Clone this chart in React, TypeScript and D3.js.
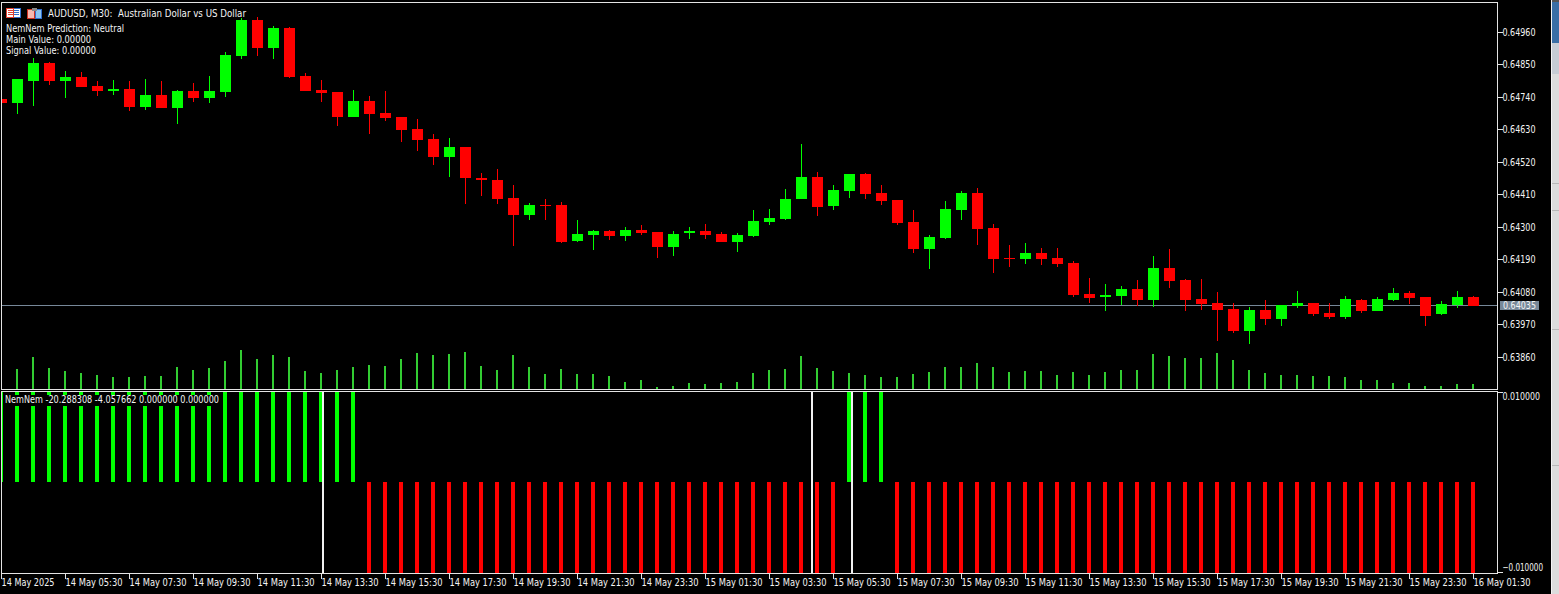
import React, { useEffect, useRef } from 'react';
import * as d3 from 'd3';

const opens = [
  0.64735, 0.64721, 0.64796, 0.64857, 0.64796, 0.64809, 0.64779, 0.64762, 0.64768, 0.64707,
  0.64748, 0.64704, 0.64762, 0.64738, 0.64758, 0.64880, 0.65002, 0.64907, 0.64975, 0.64813,
  0.64765, 0.64758, 0.64674, 0.64728, 0.64687, 0.64674, 0.64633, 0.64599, 0.64538, 0.64572,
  0.64467, 0.64460, 0.64399, 0.64341, 0.64375, 0.64375, 0.64253, 0.64274, 0.64287, 0.64270,
  0.64291, 0.64284, 0.64233, 0.64280, 0.64287, 0.64277, 0.64250, 0.64270, 0.64318, 0.64328,
  0.64396, 0.64470, 0.64372, 0.64423, 0.64480, 0.64416, 0.64392, 0.64318, 0.64226, 0.64263,
  0.64358, 0.64416, 0.64297, 0.64196, 0.64192, 0.64213, 0.64196, 0.64179, 0.64074, 0.64063,
  0.64067, 0.64090, 0.64053, 0.64162, 0.64121, 0.64057, 0.64043, 0.64023, 0.63948, 0.64019,
  0.63989, 0.64033, 0.64043, 0.64009, 0.63996, 0.64053, 0.64016, 0.64053, 0.64077, 0.64063,
  0.64006, 0.64036, 0.64063,
];
const highs = [
  0.64735, 0.64802, 0.64874, 0.64860, 0.64830, 0.64826, 0.64796, 0.64799, 0.64796, 0.64802,
  0.64796, 0.64765, 0.64789, 0.64813, 0.64894, 0.65009, 0.65013, 0.64982, 0.64979, 0.64823,
  0.64799, 0.64758, 0.64765, 0.64745, 0.64762, 0.64674, 0.64667, 0.64616, 0.64602, 0.64572,
  0.64484, 0.64497, 0.64443, 0.64382, 0.64396, 0.64385, 0.64324, 0.64291, 0.64291, 0.64301,
  0.64307, 0.64284, 0.64287, 0.64301, 0.64311, 0.64284, 0.64280, 0.64358, 0.64362, 0.64429,
  0.64581, 0.64487, 0.64443, 0.64480, 0.64484, 0.64443, 0.64392, 0.64358, 0.64274, 0.64389,
  0.64423, 0.64433, 0.64311, 0.64240, 0.64246, 0.64229, 0.64229, 0.64185, 0.64128, 0.64107,
  0.64101, 0.64121, 0.64202, 0.64226, 0.64124, 0.64124, 0.64080, 0.64043, 0.64029, 0.64053,
  0.64036, 0.64084, 0.64043, 0.64043, 0.64067, 0.64057, 0.64063, 0.64094, 0.64084, 0.64063,
  0.64050, 0.64084, 0.64067,
];
const lows = [
  0.64721, 0.64684, 0.64711, 0.64782, 0.64738, 0.64775, 0.64745, 0.64748, 0.64694, 0.64697,
  0.64704, 0.64650, 0.64724, 0.64721, 0.64741, 0.64870, 0.64880, 0.64870, 0.64806, 0.64762,
  0.64724, 0.64643, 0.64674, 0.64616, 0.64660, 0.64589, 0.64558, 0.64511, 0.64470, 0.64379,
  0.64406, 0.64379, 0.64236, 0.64324, 0.64324, 0.64246, 0.64250, 0.64223, 0.64257, 0.64253,
  0.64274, 0.64196, 0.64202, 0.64260, 0.64260, 0.64250, 0.64216, 0.64267, 0.64307, 0.64324,
  0.64396, 0.64338, 0.64358, 0.64399, 0.64396, 0.64375, 0.64307, 0.64213, 0.64158, 0.64260,
  0.64324, 0.64240, 0.64145, 0.64165, 0.64175, 0.64172, 0.64165, 0.64063, 0.64043, 0.64016,
  0.64036, 0.64033, 0.64029, 0.64094, 0.64016, 0.64019, 0.63914, 0.63941, 0.63904, 0.63968,
  0.63965, 0.64026, 0.63999, 0.63989, 0.63989, 0.64009, 0.64016, 0.64050, 0.64040, 0.63965,
  0.64002, 0.64026, 0.64033,
];
const closes = [
  0.64721, 0.64802, 0.64857, 0.64796, 0.64809, 0.64775, 0.64762, 0.64768, 0.64707, 0.64748,
  0.64704, 0.64762, 0.64738, 0.64762, 0.64884, 0.65002, 0.64907, 0.64975, 0.64809, 0.64762,
  0.64755, 0.64674, 0.64728, 0.64684, 0.64670, 0.64630, 0.64596, 0.64538, 0.64572, 0.64467,
  0.64460, 0.64396, 0.64341, 0.64375, 0.64372, 0.64250, 0.64277, 0.64287, 0.64270, 0.64291,
  0.64280, 0.64233, 0.64277, 0.64287, 0.64274, 0.64250, 0.64274, 0.64321, 0.64331, 0.64396,
  0.64470, 0.64368, 0.64426, 0.64480, 0.64413, 0.64389, 0.64314, 0.64226, 0.64267, 0.64362,
  0.64416, 0.64294, 0.64192, 0.64192, 0.64213, 0.64192, 0.64175, 0.64070, 0.64060, 0.64070,
  0.64090, 0.64053, 0.64162, 0.64118, 0.64053, 0.64040, 0.64019, 0.63948, 0.64019, 0.63989,
  0.64036, 0.64043, 0.64006, 0.63996, 0.64057, 0.64016, 0.64057, 0.64077, 0.64060, 0.63999,
  0.64040, 0.64063, 0.64033,
];
const volumes = [
  1000, 1000, 1600, 1050, 900, 800, 700, 600, 600, 650,
  650, 1100, 950, 1050, 1400, 1950, 1500, 1700, 1600, 900,
  800, 950, 1100, 1200, 1150, 1500, 1800, 1700, 1750, 1850,
  1150, 950, 1700, 1100, 750, 1000, 750, 750, 650, 350,
  450, 100, 150, 300, 250, 300, 350, 800, 950, 1000,
  1650, 1050, 900, 800, 700, 600, 600, 750, 850, 1100,
  1100, 1300, 1100, 850, 900, 900, 700, 850, 700, 850,
  950, 950, 1750, 1650, 1550, 1550, 1800, 1450, 950, 800,
  700, 700, 650, 650, 600, 450, 450, 300, 300, 150,
  150, 250, 250,
];
const signalValues = [
  0.01, 0.01, 0.01, 0.01, 0.01, 0.01, 0.01, 0.01, 0.01, 0.01,
  0.01, 0.01, 0.01, 0.01, 0.01, 0.01, 0.01, 0.01, 0.01, 0.01,
  0.01, 0.01, 0.01, -0.01, -0.01, -0.01, -0.01, -0.01, -0.01, -0.01,
  -0.01, -0.01, -0.01, -0.01, -0.01, -0.01, -0.01, -0.01, -0.01, -0.01,
  -0.01, -0.01, -0.01, -0.01, -0.01, -0.01, -0.01, -0.01, -0.01, -0.01,
  -0.01, -0.01, -0.01, 0.01, 0.01, 0.01, -0.01, -0.01, -0.01, -0.01,
  -0.01, -0.01, -0.01, -0.01, -0.01, -0.01, -0.01, -0.01, -0.01, -0.01,
  -0.01, -0.01, -0.01, -0.01, -0.01, -0.01, -0.01, -0.01, -0.01, -0.01,
  -0.01, -0.01, -0.01, -0.01, -0.01, -0.01, -0.01, -0.01, -0.01, -0.01,
  -0.01, -0.01, -0.01,
];
// the three white verticals in the lower pane sit between bars
const markerBars = [20.03, 50.59, 53.09];

const priceTicks = [0.6496, 0.6485, 0.6474, 0.6463, 0.6452, 0.6441, 0.643, 0.6419, 0.6408, 0.6397, 0.6386];
const signalTicks = [0.01, -0.01];
const timeTickBars = [0, 4, 8, 12, 16, 20, 24, 28, 32, 36, 40, 44, 48, 52, 56, 60, 64, 68, 72, 76, 80, 84, 88, 92];
const timeLabels = [
  '14 May 2025', '14 May 05:30', '14 May 07:30', '14 May 09:30', '14 May 11:30', '14 May 13:30',
  '14 May 15:30', '14 May 17:30', '14 May 19:30', '14 May 21:30', '14 May 23:30', '15 May 01:30',
  '15 May 03:30', '15 May 05:30', '15 May 07:30', '15 May 09:30', '15 May 11:30', '15 May 13:30',
  '15 May 15:30', '15 May 17:30', '15 May 19:30', '15 May 21:30', '15 May 23:30', '16 May 01:30',
];
const lastPrice = 0.64035;
const infoLines = ['NemNem Prediction: Neutral', 'Main Value: 0.00000', 'Signal Value: 0.00000'];
const titleText = 'AUDUSD, M30:\u00a0\u00a0Australian Dollar vs US Dollar';
const subTitle = 'NemNem -20.288308 -4.057662 0.000000 0.000000';

const FONT = '"DejaVu Sans Condensed", "Liberation Sans", sans-serif';
const FONT_SIZE = 10;
const TEXT = '#f4f4f4';
const FRAME = '#e4e4e4';

const App: React.FC = () => {
  const svgRef = useRef<SVGSVGElement>(null);

  useEffect(() => {
    if (!svgRef.current) return;
    const svg = d3.select(svgRef.current);
    svg.selectAll('*').remove();

    const width = 1559;
    const height = 594;
    const right = 1497.5;
    const mainTop = 2.5;
    const mainBottom = 389.5;
    const subTop = 391.5;
    const subBottom = 573.5;

    const x = d3.scaleLinear().domain([0, 92]).range([1.5, 1473.5]);
    const y = d3.scaleLinear().domain([0.6496, 0.6386]).range([32.5, 357]);
    const yVol = d3.scaleLinear().domain([0, 2000]).range([389, 349]);
    const ySub = d3.scaleLinear().domain([0.01, -0.01]).range([392.5, 572.5]);

    svg.append('rect').attr('width', width).attr('height', height).attr('fill', '#000');

    // window chrome on the far right
    svg.append('rect').attr('x', 1551).attr('width', 8).attr('height', height).attr('fill', '#dcdcdc');
    svg.append('rect').attr('x', 1551).attr('width', 1).attr('height', height).attr('fill', '#f4f4f4');
    svg.append('rect').attr('x', 1552).attr('y', 0).attr('width', 7).attr('height', 43).attr('fill', '#3a6ea5');
    svg.append('rect').attr('x', 1552).attr('y', 0).attr('width', 7).attr('height', 2).attr('fill', '#555');
    svg.append('rect').attr('x', 1552).attr('y', 43).attr('width', 7).attr('height', 31).attr('fill', '#c6ccd4');
    [183, 210, 329, 465].forEach(ly => {
      svg.append('rect').attr('x', 1552).attr('y', ly).attr('width', 7).attr('height', 1).attr('fill', '#b8b8b8');
    });

    const defs = svg.append('defs');
    defs.append('clipPath').attr('id', 'main-clip').append('rect')
      .attr('x', 2).attr('y', 3).attr('width', 1495).attr('height', 386);
    defs.append('clipPath').attr('id', 'sub-clip').append('rect')
      .attr('x', 2).attr('y', 392).attr('width', 1495).attr('height', 181);

    const main = svg.append('g').attr('clip-path', 'url(#main-clip)').attr('shape-rendering', 'crispEdges');
    const sub = svg.append('g').attr('clip-path', 'url(#sub-clip)').attr('shape-rendering', 'crispEdges');

    // Last price line stays behind the candles
    main.append('rect')
      .attr('x', 2).attr('y', Math.floor(y(lastPrice)))
      .attr('width', 1495).attr('height', 1)
      .attr('fill', '#778899');

    const bars = d3.range(opens.length);

    // Volumes
    main.selectAll('.vol').data(bars).enter().append('rect')
      .attr('class', 'vol')
      .attr('x', i => x(i) - 1.5)
      .attr('y', i => Math.round(yVol(volumes[i])))
      .attr('width', 2)
      .attr('height', i => 389 - Math.round(yVol(volumes[i])))
      .attr('fill', '#32cd32');

    const color = (i: number) => (closes[i] >= opens[i] ? '#00ff00' : '#ff0000');

    // Wicks
    main.selectAll('.wick').data(bars).enter().append('rect')
      .attr('class', 'wick')
      .attr('x', i => x(i) - 0.5)
      .attr('y', i => Math.round(y(highs[i])))
      .attr('width', 1)
      .attr('height', i => Math.round(y(lows[i])) - Math.round(y(highs[i])))
      .attr('fill', color);

    // Bodies
    main.selectAll('.body').data(bars).enter().append('rect')
      .attr('class', 'body')
      .attr('x', i => x(i) - 5.5)
      .attr('y', i => Math.round(y(Math.max(opens[i], closes[i]))))
      .attr('width', 11)
      .attr('height', i => Math.round(y(Math.min(opens[i], closes[i]))) - Math.round(y(Math.max(opens[i], closes[i]))))
      .attr('fill', color);

    // Signal histogram
    const zero = Math.floor(ySub(0));
    sub.selectAll('.sig').data(bars).enter().append('rect')
      .attr('class', 'sig')
      .attr('x', i => x(i) - 2.5)
      .attr('y', i => Math.min(zero, Math.floor(ySub(signalValues[i]))))
      .attr('width', 4)
      .attr('height', i => Math.abs(Math.floor(ySub(signalValues[i])) - zero) + (signalValues[i] < 0 ? 1 : 0))
      .attr('fill', i => (signalValues[i] > 0 ? '#00ff00' : '#ff0000'));

    sub.selectAll('.marker').data(markerBars).enter().append('rect')
      .attr('class', 'marker')
      .attr('x', d => Math.round(x(d)))
      .attr('y', 392)
      .attr('width', 2)
      .attr('height', 181)
      .attr('fill', '#f0f0f0');

    // Frames
    const frames = svg.append('g').attr('fill', 'none').attr('stroke', FRAME).attr('shape-rendering', 'crispEdges');
    frames.append('rect').attr('x', 1.5).attr('y', mainTop).attr('width', right - 1.5).attr('height', mainBottom - mainTop);
    frames.append('rect').attr('x', 1.5).attr('y', subTop).attr('width', right - 1.5).attr('height', subBottom - subTop);

    // Axes
    const styleAxis = (g: d3.Selection<SVGGElement, unknown, null, undefined>) => {
      g.select('.domain').remove();
      g.selectAll('line').attr('stroke', FRAME).attr('shape-rendering', 'crispEdges');
      g.selectAll('text')
        .attr('fill', TEXT)
        .attr('font-family', FONT)
        .attr('font-size', FONT_SIZE)
        .attr('lengthAdjust', 'spacingAndGlyphs');
    };

    const priceAxis = svg.append('g')
      .attr('transform', `translate(${right},0)`)
      .call(d3.axisRight(y).tickValues(priceTicks).tickFormat(d3.format('.5f') as any).tickSize(5).tickPadding(0).offset(0))
      .call(styleAxis as any);
    priceAxis.selectAll('text').attr('dy', 3.5).attr('textLength', 33);

    const subAxis = svg.append('g')
      .attr('transform', `translate(${right},0)`)
      .call(d3.axisRight(ySub).tickValues(signalTicks).tickFormat(d3.format('.6f') as any).tickSize(5).tickPadding(0).offset(0))
      .call(styleAxis as any);
    subAxis.selectAll<SVGTextElement, number>('text')
      .attr('dy', d => (d > 0 ? 7.5 : -1.5))
      .attr('textLength', d => (d > 0 ? 37.5 : 40.5));

    const timeAxis = svg.append('g')
      .attr('transform', `translate(0,${subBottom})`)
      .call(
        d3.axisBottom(x).tickValues(timeTickBars)
          .tickFormat((_d, i) => timeLabels[i])
          .tickSize(5).tickPadding(0).offset(0),
      )
      .call(styleAxis as any);
    timeAxis.selectAll('text')
      .attr('text-anchor', 'start')
      .attr('x', 0)
      .attr('y', 12.5)
      .attr('dy', 0)
      .attr('textLength', (_d, i) => (i === 0 ? 53 : 57));

    // Last price tag
    svg.append('rect')
      .attr('x', 1500).attr('y', 301).attr('width', 39).attr('height', 9)
      .attr('fill', '#778899');
    svg.append('text')
      .attr('x', 1503).attr('y', 309)
      .attr('fill', TEXT).attr('font-family', FONT).attr('font-size', FONT_SIZE)
      .attr('textLength', 33).attr('lengthAdjust', 'spacingAndGlyphs')
      .text(d3.format('.5f')(lastPrice));

    // Chart labels
    const label = (tx: number, ty: number, s: string, len: number) =>
      svg.append('text').attr('x', tx).attr('y', ty)
        .attr('fill', TEXT).attr('font-family', FONT).attr('font-size', FONT_SIZE)
        .attr('textLength', len).attr('lengthAdjust', 'spacingAndGlyphs')
        .text(s);

    label(48, 17, titleText, 198);
    infoLines.forEach((s, i) => label(6, [32, 43, 54][i], s, [118, 85, 90][i]));

    svg.append('rect').attr('x', 3).attr('y', 395).attr('width', 218).attr('height', 11).attr('fill', '#000');
    label(5, 403, subTitle, 214);

    // Title bar icons
    const icons = svg.append('g').attr('shape-rendering', 'crispEdges');
    icons.append('rect').attr('x', 6.5).attr('y', 8.5).attr('width', 14).attr('height', 9).attr('fill', '#fff').attr('stroke', '#2f6fd0');
    icons.append('rect').attr('x', 6.5).attr('y', 8.5).attr('width', 7).attr('height', 9).attr('fill', '#fff').attr('stroke', '#e04030');
    [10, 12, 14].forEach(ly => {
      icons.append('rect').attr('x', 8).attr('y', ly).attr('width', 5).attr('height', 1).attr('fill', '#e04030');
      icons.append('rect').attr('x', 14).attr('y', ly).attr('width', 5).attr('height', 1).attr('fill', '#2f6fd0');
    });
    icons.append('rect').attr('x', 27.5).attr('y', 9.5).attr('width', 7).attr('height', 9).attr('fill', '#f6b8b0').attr('stroke', '#d03020');
    icons.append('rect').attr('x', 35.5).attr('y', 9.5).attr('width', 6).attr('height', 9).attr('fill', '#8cc4f0').attr('stroke', '#2f6fd0');
    icons.append('rect').attr('x', 32).attr('y', 8).attr('width', 5).attr('height', 3).attr('fill', '#888');
  }, []);

  return (
    <svg
      ref={svgRef}
      width={1559}
      height={594}
      style={{ position: 'absolute', left: 0, top: 0, display: 'block' }}
    />
  );
};

export default App;
